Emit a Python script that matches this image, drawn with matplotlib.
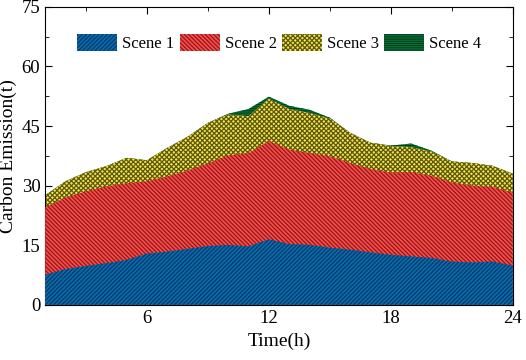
import numpy as np
import matplotlib.pyplot as plt
from matplotlib.ticker import MultipleLocator

plt.rcParams['font.family'] = ['Liberation Serif', 'DejaVu Serif']
plt.rcParams['hatch.linewidth'] = 0.9

# hourly carbon emission (t) for each scene
hours = np.arange(1, 25)
scene1 = [7.6, 9.0, 9.8, 10.5, 11.3, 12.9, 13.4, 14.1, 14.8, 15.1, 14.7, 16.5,
          15.3, 15.1, 14.4, 13.9, 13.2, 12.6, 12.2, 11.8, 10.9, 10.7, 10.9, 9.9]
scene2 = [24.6, 27.0, 28.6, 29.8, 30.6, 31.1, 32.3, 33.8, 35.6, 37.6, 38.2, 41.2,
          39.1, 38.2, 37.4, 35.7, 34.2, 33.3, 33.4, 32.5, 30.8, 30.0, 29.7, 28.3]
scene3 = [27.6, 31.1, 33.4, 34.9, 37.0, 36.4, 39.5, 42.3, 45.8, 47.9, 47.5, 51.9,
          49.3, 48.3, 46.9, 43.3, 40.8, 40.0, 39.7, 38.6, 36.1, 35.7, 35.0, 33.0]
scene4 = [27.6, 31.1, 33.4, 34.9, 37.0, 36.4, 39.5, 42.3, 45.8, 48.1, 49.3, 52.4,
          50.1, 49.1, 47.1, 43.3, 40.8, 40.1, 40.6, 38.8, 36.1, 35.7, 35.0, 33.0]

fig = plt.figure(figsize=(5.26, 3.6), dpi=100)
ax = fig.add_axes([0.086, 0.153, 0.889, 0.828])

ax.fill_between(hours, 0, scene4, facecolor='#0c9048', edgecolor='#02401c',
                linewidth=0, hatch='-' * 9, label='Scene 4', zorder=1)
ax.fill_between(hours, 0, scene3, facecolor='#f0e640', edgecolor='#5e5614',
                linewidth=0, hatch='x' * 7, label='Scene 3', zorder=2)
ax.fill_between(hours, 0, scene2, facecolor='#ff4a4a', edgecolor='#8a1c1c',
                linewidth=0, hatch='\\' * 8, label='Scene 2', zorder=3)
ax.fill_between(hours, 0, scene1, facecolor='#0a6cb0', edgecolor='#063a66',
                linewidth=0, hatch='/' * 8, label='Scene 1', zorder=4)

ax.set_xlim(1, 24)
ax.set_ylim(0, 75)
ax.xaxis.set_major_locator(MultipleLocator(6))
ax.xaxis.set_minor_locator(MultipleLocator(3))
ax.yaxis.set_major_locator(MultipleLocator(15))
ax.yaxis.set_minor_locator(MultipleLocator(7.5))
ax.tick_params(which='both', direction='in', top=True, right=True, labelsize=13.5)
ax.tick_params(which='major', length=5)
ax.tick_params(which='minor', length=3)
ax.set_xlabel('Time(h)', fontsize=14)
ax.set_ylabel('Carbon Emission(t)', fontsize=14, labelpad=3)

h, l = ax.get_legend_handles_labels()
ax.legend(h[::-1], l[::-1], loc='upper center', ncol=4, frameon=False,
          fontsize=12, bbox_to_anchor=(0.5, 0.96), handlelength=2.4,
          handleheight=1.2, columnspacing=0.3, handletextpad=0.3)

fig.savefig('out.png', dpi=100)
